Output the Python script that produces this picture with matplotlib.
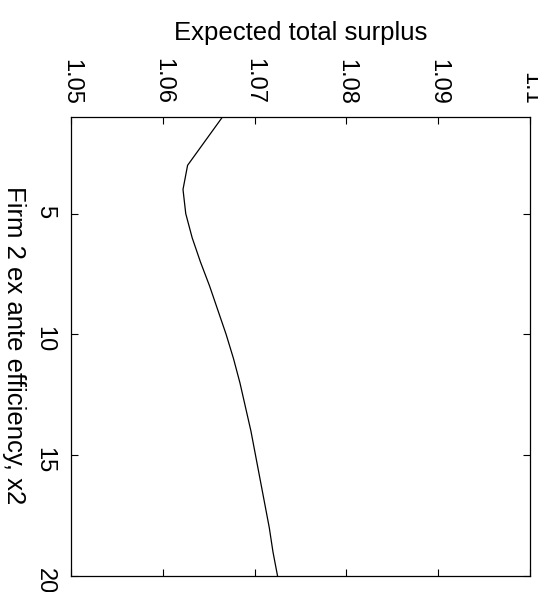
import matplotlib
matplotlib.use("Agg")
import matplotlib.pyplot as plt

# firm 2 ex ante efficiency and expected total surplus
x2 = [1, 3, 4, 5, 6, 7, 8, 9, 10, 11, 12, 13, 14, 15, 16, 17, 18, 19, 20]
surplus = [1.0665, 1.0627, 1.0622, 1.0625, 1.0632, 1.0641, 1.0651, 1.0660,
           1.0669, 1.0677, 1.0684, 1.0690, 1.0696, 1.0701, 1.0706, 1.0711,
           1.0716, 1.0720, 1.0725]

surplus_ticks = [1.05, 1.06, 1.07, 1.08, 1.09, 1.1]
surplus_labels = ["1.05", "1.06", "1.07", "1.08", "1.09", "1.1"]
x2_ticks = [5, 10, 15, 20]

plt.rcParams['font.family'] = ['Liberation Sans', 'DejaVu Sans']

W, H = 538, 592
fig = plt.figure(figsize=(W / 100, H / 100), dpi=100)
# axes box in pixels: left 71, right 530, top 117, bottom 576
ax = fig.add_axes([71 / W, (H - 576) / H, (530 - 71) / W, (576 - 117) / H])

# chart is drawn rotated: surplus runs across, x2 runs down
ax.plot(surplus, x2, color='black', linewidth=0.9)

ax.set_xlim(1.05, 1.1)
ax.set_ylim(20, 1)
ax.set_xticks(surplus_ticks)
ax.set_xticklabels(surplus_labels, rotation=-90)
ax.set_yticks(x2_ticks)
ax.set_yticklabels([str(t) for t in x2_ticks], rotation=-90)

ax.tick_params(axis='both', direction='in', length=5, width=0.8,
               top=True, bottom=True, left=True, right=True,
               labeltop=True, labelbottom=False, labelsize=17)
ax.tick_params(axis='x', pad=9)
ax.tick_params(axis='y', pad=11)
for s in ax.spines.values():
    s.set_linewidth(0.9)

fig.text(301 / W, 1 - 40 / H, "Expected total surplus", fontsize=18.5,
         ha='center', va='baseline')
fig.text(13.5 / W, 1 - 345 / H, "Firm 2 ex ante efficiency, x2",
         fontsize=18.5, rotation=-90, ha='center', va='center')

fig.savefig("out.png", dpi=100)
